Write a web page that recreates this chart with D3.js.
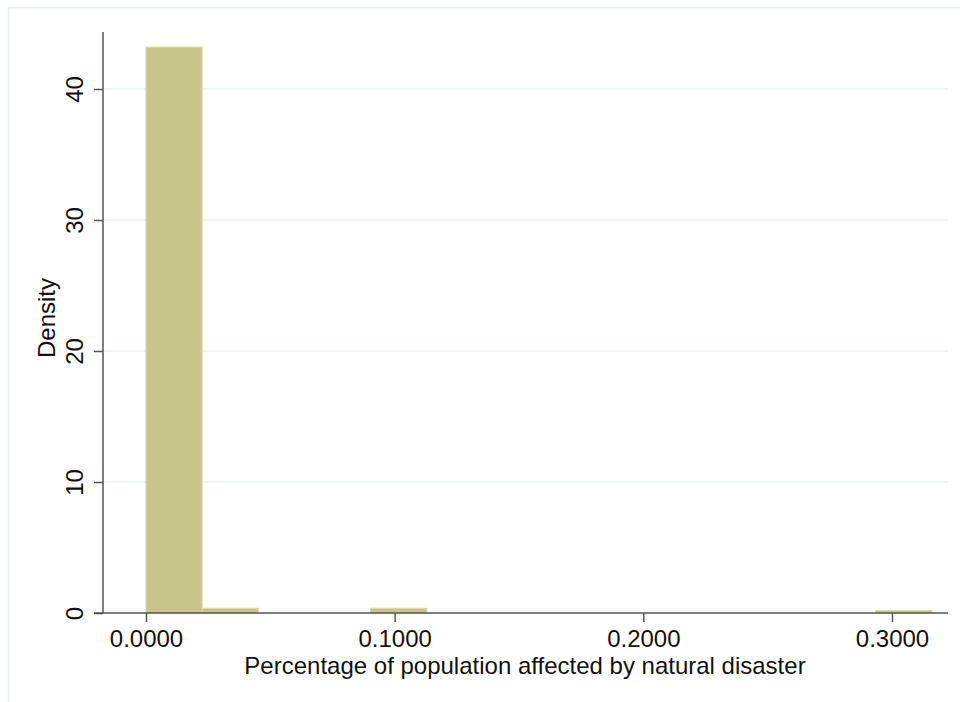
<!DOCTYPE html>
<html><head><meta charset="utf-8">
<script src="https://cdn.jsdelivr.net/npm/d3@7"></script>
<style>body{margin:0;background:#fff}svg{display:block}text{font-family:"Liberation Sans",Arial,Helvetica,sans-serif;fill:#111}</style>
</head><body>
<svg id="c" width="960" height="702"></svg>
<script>
const binStarts = [0, 0.02257, 0.09029, 0.29343];
const binWidth = 0.02257;
const densities = [43.2, 0.36, 0.36, 0.18];
const xTicks = [0, 0.1, 0.2, 0.3];
const yTicks = [0, 10, 20, 30, 40];
const xTitle = "Percentage of population affected by natural disaster";
const yTitle = "Density";

const svg = d3.select("#c");
svg.append("rect").attr("x",8.5).attr("y",7.5).attr("width",960).attr("height",700)
  .attr("fill","#fff").attr("stroke","#e6eef0").attr("stroke-width",1.5);

const x = d3.scaleLinear().domain([0,0.3]).range([146,892]);
const y = d3.scaleLinear().domain([0,40]).range([613,89]);
const plotLeft = 103, plotRight = 948;

// gridlines
svg.append("g").selectAll("line").data(yTicks.filter(d=>d>0)).join("line")
  .attr("x1",plotLeft).attr("x2",plotRight).attr("y1",d=>y(d)).attr("y2",d=>y(d))
  .attr("stroke","#eaf2f3").attr("stroke-width",1.5);

// bars
svg.append("g").selectAll("rect").data(binStarts.map((s,i)=>({s,d:densities[i]}))).join("rect")
  .attr("x",d=>x(d.s)).attr("width",d=>x(d.s+binWidth)-x(d.s))
  .attr("y",d=>y(d.d)).attr("height",d=>y(0)-y(d.d))
  .attr("fill","#c8c58a").attr("stroke","#d9d6a6").attr("stroke-width",1);

// y axis
const ya = svg.append("g").attr("transform",`translate(${plotLeft},0)`)
  .call(d3.axisLeft(y).tickValues(yTicks).tickSize(9).tickPadding(5).tickFormat(d3.format("d")));
ya.select(".domain").attr("d",`M0,32V613`).attr("stroke","#555").attr("stroke-width",1.5);
ya.selectAll(".tick line").attr("stroke","#555").attr("stroke-width",1.5);
ya.selectAll(".tick text").attr("font-size",24).attr("fill","#111")
  .attr("transform","rotate(-90)").attr("text-anchor","middle").attr("x",0).attr("y",-20).attr("dy","0");

// x axis
const xa = svg.append("g").attr("transform","translate(0,613)")
  .call(d3.axisBottom(x).tickValues(xTicks).tickSize(9).tickPadding(8).tickFormat(d3.format(".4f")));
xa.select(".domain").attr("d",`M94,0H948`).attr("stroke","#555").attr("stroke-width",1.5);
xa.selectAll(".tick line").attr("stroke","#555").attr("stroke-width",1.5);
xa.selectAll(".tick text").attr("font-size",24).attr("fill","#111");

svg.append("text").attr("x",525).attr("y",674).attr("text-anchor","middle").attr("font-size",24).text(xTitle);
svg.append("text").attr("transform","translate(55,318) rotate(-90)").attr("text-anchor","middle").attr("font-size",24).text(yTitle);
</script>
</body></html>
